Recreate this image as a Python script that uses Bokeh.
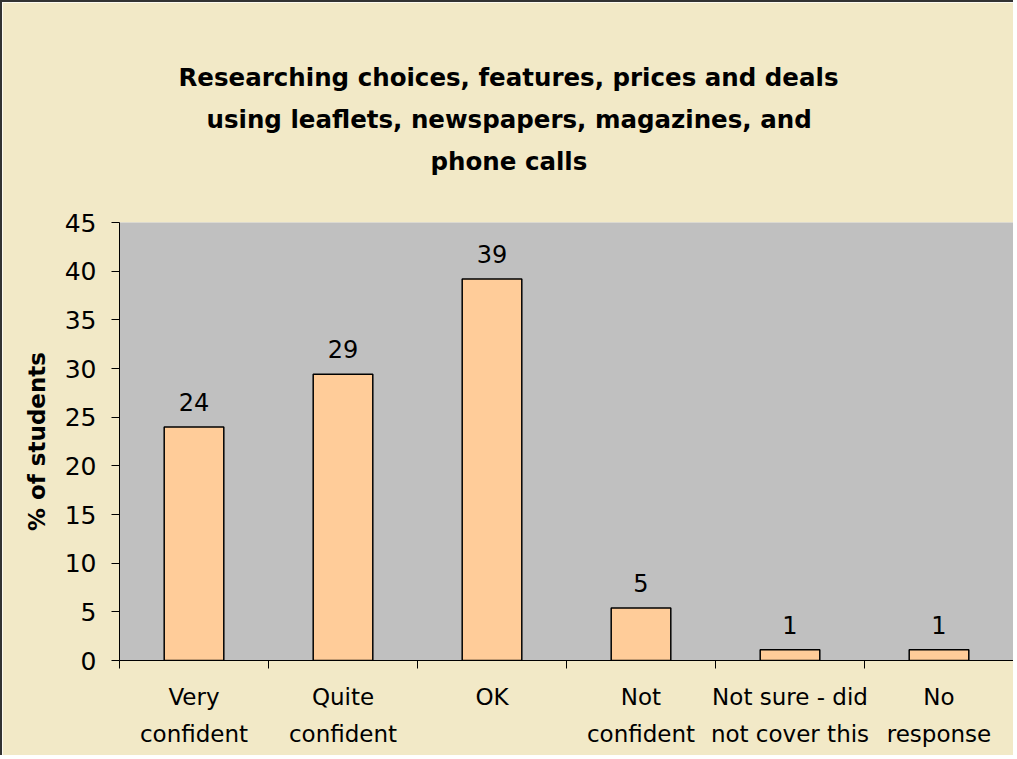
from bokeh.plotting import figure
from bokeh.models import (Range1d, FixedTicker, ColumnDataSource, LabelSet, Title)
from bokeh.core.properties import value
from bokeh.embed import file_html
from bokeh.resources import INLINE

# ---------------- data ----------------
categories = ["Very\nconfident", "Quite\nconfident", "OK", "Not\nconfident",
              "Not sure - did\nnot cover this", "No\nresponse"]
values = [24.0, 29.4, 39.2, 5.4, 1.1, 1.1]
value_labels = [f"{v:.0f}" for v in values]
y_ticks = [0, 5, 10, 15, 20, 25, 30, 35, 40, 45]
title_lines = ["Researching choices, features, prices and deals",
               "using leaflets, newspapers, magazines, and",
               "phone calls"]
y_label = "% of students"

# ---------------- layout / style ----------------
BEIGE = "#F2E9C7"
GRAY = "#C0C0C0"
BAR = "#FFCC99"
FONT = "DejaVu Sans"
title_left_offsets = [59, 87, 311]      # px from plot-area left edge, per title line

n = len(categories)
xpos = [i + 0.5 for i in range(n)]   # category slot centres

p = figure(x_range=Range1d(0, n), y_range=Range1d(0, 45),
           width=1013, height=755, output_backend="svg", toolbar_location=None,
           title_location=None,
           min_border_left=117, min_border_right=2, min_border_top=220,
           min_border_bottom=97, background_fill_color=GRAY,
           border_fill_color=BEIGE, outline_line_color=None)
p.styles = {"border-left": "2px solid #333333", "border-top": "2px solid #333333"}

src = ColumnDataSource(dict(x=xpos, val=values, lab=value_labels))

p.vbar(x="x", top="val", width=0.4, source=src, fill_color=BAR,
       line_color="black", line_width=1.5)

p.add_layout(LabelSet(x="x", y="val", text="lab", source=src,
                      text_align="center", text_baseline="alphabetic",
                      y_offset=16, text_font=value(FONT), text_font_size="24px",
                      text_color="black"))

# spacer between plot area and title
p.add_layout(Title(text=" ", text_font=FONT, text_font_size="10px",
                   standoff=28), "above")
# title lines, stacked upward (closest to the plot first)
for line, off in zip(reversed(title_lines), reversed(title_left_offsets)):
    p.add_layout(Title(text=line, align="left", offset=off,
                       text_font=FONT, text_font_size="24.5px",
                       text_font_style="bold", text_color="black",
                       standoff=10.6), "above")

# y axis
p.yaxis.ticker = FixedTicker(ticks=y_ticks)
p.yaxis.major_label_text_font = FONT
p.yaxis.major_label_text_font_size = "25px"
p.yaxis.major_label_text_color = "black"
p.yaxis.major_tick_out = 8
p.yaxis.major_tick_in = 0
p.yaxis.minor_tick_out = 0
p.yaxis.minor_tick_in = 0
p.yaxis.major_label_standoff = 15
p.yaxis.axis_line_color = "black"
p.yaxis.major_tick_line_color = "black"
p.yaxis.axis_label = y_label
p.yaxis.axis_label_text_font = FONT
p.yaxis.axis_label_text_font_size = "23px"
p.yaxis.axis_label_text_font_style = "bold"
p.yaxis.axis_label_text_color = "black"
p.yaxis.axis_label_standoff = 12

# x axis: labels at slot centres, tick marks (minor) at slot boundaries
p.xaxis.ticker = FixedTicker(ticks=xpos, minor_ticks=list(range(n + 1)))
p.xaxis.major_label_overrides = {x: c for x, c in zip(xpos, categories)}
p.xaxis.major_tick_out = 0
p.xaxis.major_tick_in = 0
p.xaxis.major_tick_line_color = None
p.xaxis.minor_tick_out = 8
p.xaxis.minor_tick_in = 0
p.xaxis.minor_tick_line_color = "black"
p.xaxis.axis_line_color = "black"
p.xaxis.major_label_standoff = 15
p.xaxis.major_label_text_font = FONT
p.xaxis.major_label_text_font_size = "23px"
p.xaxis.major_label_text_color = "black"
p.xaxis.major_label_text_line_height = 1.45

p.xgrid.visible = False
p.ygrid.visible = False

open("out.html", "w").write(file_html(p, INLINE))
